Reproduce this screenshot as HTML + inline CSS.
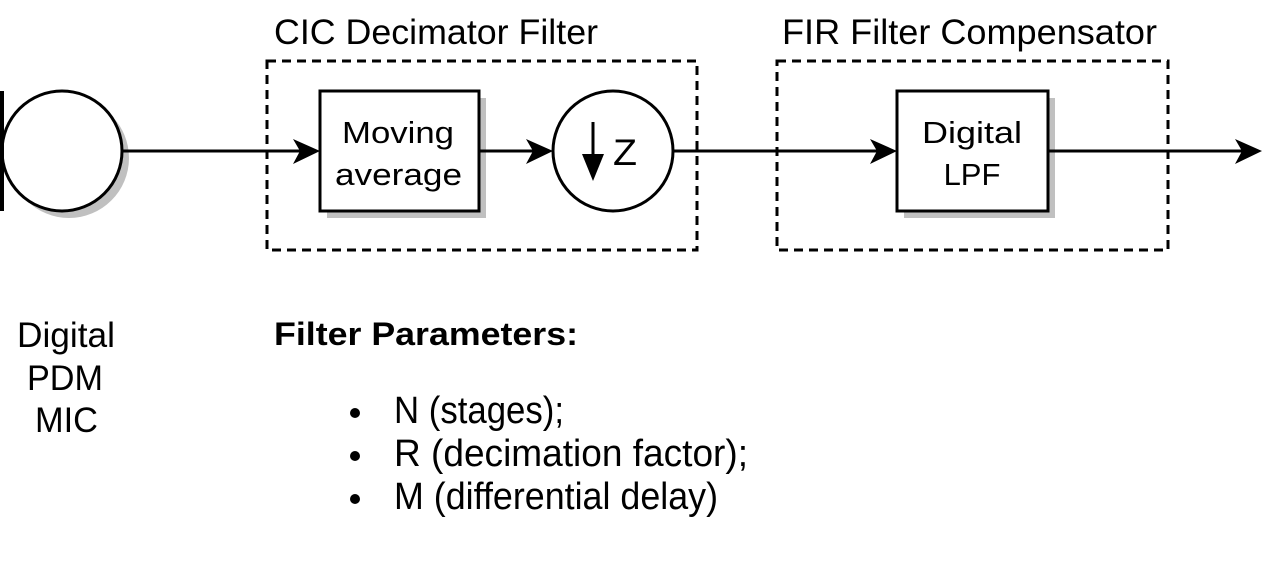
<!DOCTYPE html>
<html><head><meta charset="utf-8"><style>
html,body{margin:0;padding:0;background:#fff;}
svg{display:block;}
text{font-family:"Liberation Sans",Arial,sans-serif;fill:#000;}
</style></head><body>
<svg width="1287" height="576" viewBox="0 0 1287 576" xmlns="http://www.w3.org/2000/svg">
<!-- titles -->
<text x="274" y="44" font-size="35" textLength="324" lengthAdjust="spacingAndGlyphs">CIC Decimator Filter</text>
<text x="782" y="44" font-size="35" textLength="375" lengthAdjust="spacingAndGlyphs">FIR Filter Compensator</text>
<!-- dashed boxes -->
<rect x="267" y="61" width="430" height="189" fill="none" stroke="#000" stroke-width="3" stroke-dasharray="9 6"/>
<rect x="777" y="61" width="391" height="189" fill="none" stroke="#000" stroke-width="3" stroke-dasharray="9 6"/>
<!-- mic -->
<circle cx="69" cy="158" r="60" fill="#c0c0c0"/>
<circle cx="62" cy="151" r="60" fill="#fff" stroke="#000" stroke-width="3"/>
<line x1="2" y1="91" x2="2" y2="211" stroke="#000" stroke-width="4"/>
<!-- moving average -->
<rect x="327" y="98" width="159" height="120" fill="#c0c0c0"/>
<rect x="320" y="91" width="159" height="120" fill="#fff" stroke="#000" stroke-width="3"/>
<text x="342" y="143" font-size="31" textLength="112" lengthAdjust="spacingAndGlyphs">Moving</text>
<text x="335" y="185" font-size="31" textLength="127" lengthAdjust="spacingAndGlyphs">average</text>
<!-- Z circle -->
<circle cx="613" cy="151" r="60" fill="#fff" stroke="#000" stroke-width="3"/>
<line x1="593" y1="122" x2="593" y2="165" stroke="#000" stroke-width="3"/>
<polygon points="582,154 604,154 593,181" fill="#000"/>
<text x="613" y="165" font-size="37" textLength="24" lengthAdjust="spacingAndGlyphs">Z</text>
<!-- LPF -->
<rect x="904" y="98" width="151" height="120" fill="#c0c0c0"/>
<rect x="897" y="91" width="151" height="120" fill="#fff" stroke="#000" stroke-width="3"/>
<text x="922" y="143" font-size="31" textLength="100" lengthAdjust="spacingAndGlyphs">Digital</text>
<text x="972" y="185" font-size="31" text-anchor="middle">LPF</text>
<!-- connectors -->
<g stroke="#000" stroke-width="3">
<line x1="122" y1="151" x2="300" y2="151"/>
<line x1="479" y1="151" x2="535" y2="151"/>
<line x1="673" y1="151" x2="878" y2="151"/>
<line x1="1048" y1="151" x2="1245" y2="151"/>
</g>
<g fill="#000">
<polygon points="293,139 320,151 293,164 300,151"/>
<polygon points="526,139 553,151 526,164 533,151"/>
<polygon points="870,139 897,151 870,164 877,151"/>
<polygon points="1235,139 1262,151 1235,164 1242,151"/>
</g>
<!-- labels -->
<text x="17" y="347" font-size="35" textLength="98" lengthAdjust="spacingAndGlyphs">Digital</text>
<text x="27" y="390" font-size="35" textLength="76" lengthAdjust="spacingAndGlyphs">PDM</text>
<text x="35" y="432" font-size="35" textLength="63" lengthAdjust="spacingAndGlyphs">MIC</text>
<text x="274" y="345" font-size="32" font-weight="bold" textLength="304" lengthAdjust="spacingAndGlyphs">Filter Parameters:</text>
<circle cx="355" cy="413" r="5"/>
<circle cx="355" cy="456" r="5"/>
<circle cx="355" cy="499" r="5"/>
<text x="394" y="423" font-size="38" textLength="170" lengthAdjust="spacingAndGlyphs">N (stages);</text>
<text x="394" y="466" font-size="38" textLength="354" lengthAdjust="spacingAndGlyphs">R (decimation factor);</text>
<text x="394" y="509" font-size="38" textLength="324" lengthAdjust="spacingAndGlyphs">M (differential delay)</text>
</svg>
</body></html>
